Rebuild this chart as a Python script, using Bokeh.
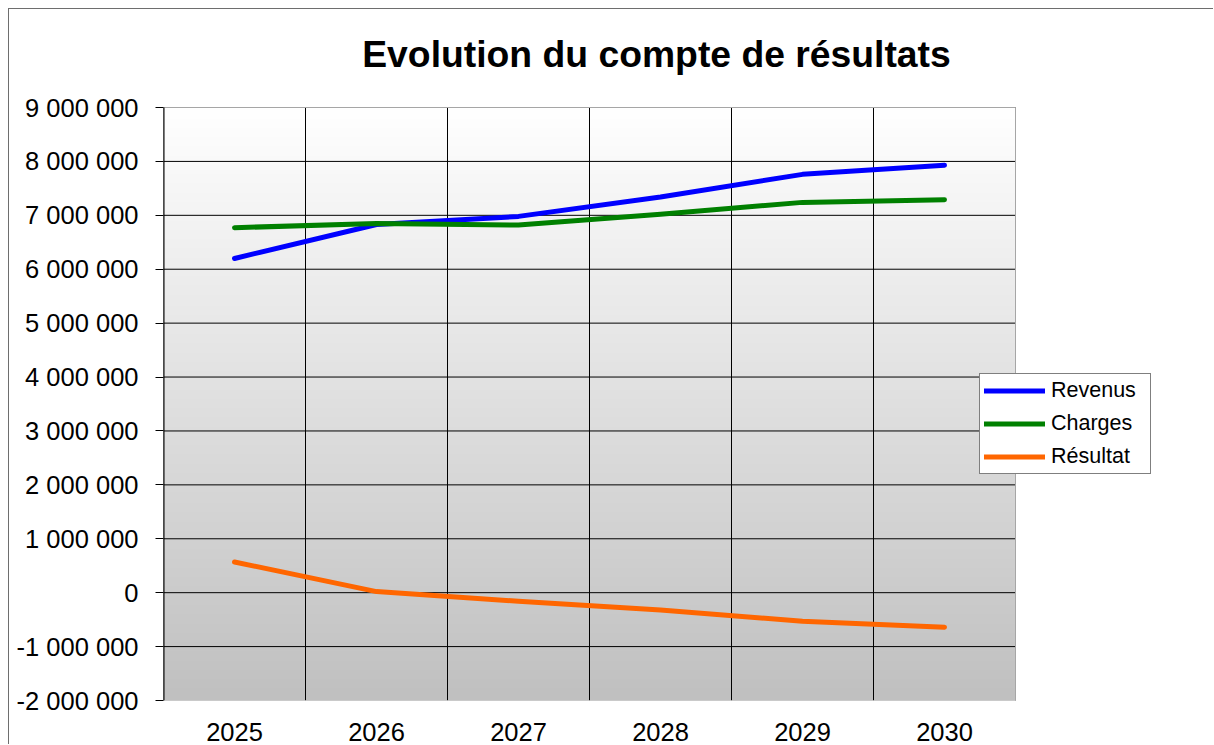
import numpy as np
from bokeh.plotting import figure
from bokeh.models import Range1d, FixedTicker, Legend, LegendItem, Label
from bokeh.embed import file_html
from bokeh.resources import INLINE

# ---- data ----
years = [2025, 2026, 2027, 2028, 2029, 2030]
revenus = [6200000, 6830000, 6980000, 7340000, 7760000, 7930000]
charges = [6770000, 6850000, 6820000, 7020000, 7240000, 7290000]
resultat = [570000, 20000, -160000, -320000, -530000, -640000]
series_names = ["Revenus", "Charges", "Résultat"]
series_colors = ["#0000FF", "#008000", "#FF6600"]
y_ticks = list(range(-2000000, 9000001, 1000000))
y_tick_labels = [f"{v:,}".replace(",", " ") for v in y_ticks]
title_text = "Evolution du compte de résultats"

y_min, y_max = y_ticks[0], y_ticks[-1]
FONT = "Liberation Sans"

# layout (pixels)
DATA_W = 852      # width of the grey plot area
DATA_H = 593      # height of the grey plot area
FRAME_W = 997     # frame incl. room for the overlapping legend
FRAME_H = 691     # frame incl. room for the title
x_lo = years[0] - 0.5
x_hi = years[-1] + 0.5
x_end = x_lo + len(years) * FRAME_W / DATA_W
y_end = y_min + (y_max - y_min) * FRAME_H / DATA_H

p = figure(width=1205, height=736, output_backend="svg", toolbar_location=None,
           x_range=Range1d(x_lo, x_end),
           y_range=Range1d(y_min, y_end),
           min_border_left=154, min_border_right=1205 - 154 - FRAME_W,
           min_border_top=0, min_border_bottom=736 - FRAME_H)
p.styles = {"margin-left": "8px", "margin-top": "8px",
            "border-left": "1px solid #6e6e6e", "border-top": "1px solid #6e6e6e"}
p.title.visible = False
p.background_fill_color = "white"
p.border_fill_color = "white"
p.outline_line_color = None

# gradient background (white at top -> grey at bottom)
n = 256
g = np.linspace(192, 255, n).astype(np.uint32)
img = np.empty((n, 1), dtype=np.uint32)
img[:, 0] = (255 << 24) | (g << 16) | (g << 8) | g
p.image_rgba(image=[img], x=x_lo, y=y_min, dw=x_hi - x_lo, dh=y_max - y_min,
             level="image")

# grids
p.xgrid.visible = False
p.ygrid.visible = False
bounds = [y - 0.5 for y in years] + [x_hi]
p.segment(x0=bounds, x1=bounds, y0=[y_min] * len(bounds), y1=[y_max] * len(bounds),
          line_color="#000000", line_width=1)
inner = y_ticks[1:-1]
p.segment(x0=[x_lo] * len(inner), x1=[x_hi] * len(inner), y0=inner, y1=inner,
          line_color="#000000", line_width=1)
# plot-area border
p.quad(left=[x_lo], right=[x_hi], bottom=[y_min], top=[y_max],
       fill_color=None, line_color="#A6A6A6", line_width=1)
# value-axis line
p.segment(x0=[x_lo], x1=[x_lo], y0=[y_min], y1=[y_max],
          line_color="#000000", line_width=2)

# axes
xa = p.xaxis[0]
xa.ticker = FixedTicker(ticks=years)
xa.axis_line_color = None
xa.major_tick_line_color = None
xa.minor_tick_line_color = None
xa.major_label_standoff = 16
xa.major_label_text_font = FONT
xa.major_label_text_font_size = "25.5px"
xa.major_label_text_color = "#000000"

ya = p.yaxis[0]
ya.ticker = FixedTicker(ticks=y_ticks)
ya.major_label_overrides = {t: s for t, s in zip(y_ticks, y_tick_labels)}
ya.axis_line_color = None
ya.major_tick_line_color = "#000000"
ya.major_tick_out = 8
ya.major_tick_in = 0
ya.minor_tick_line_color = None
ya.major_label_standoff = 17
ya.major_label_text_font = FONT
ya.major_label_text_font_size = "25.5px"
ya.major_label_text_color = "#000000"

# lines
items = []
for name, vals, col in zip(series_names, [revenus, charges, resultat], series_colors):
    r = p.line(years, vals, line_color=col, line_width=5,
               line_cap="round", line_join="round")
    items.append(LegendItem(label=name, renderers=[r]))

legend = Legend(items=items, location=(816, 226))
legend.border_line_color = "#000000"
legend.border_line_width = 1
legend.background_fill_color = "white"
legend.background_fill_alpha = 1
legend.label_text_font = FONT
legend.label_text_font_size = "21.5px"
legend.label_text_color = "#000000"
legend.glyph_width = 61
legend.glyph_height = 25
legend.label_height = 25
legend.label_width = 95
legend.label_standoff = 6
legend.spacing = 8
legend.padding = 4
legend.margin = 0
p.add_layout(legend, "center")

# title
title = Label(x=493, y=647, x_units="screen", y_units="screen", text=title_text,
              text_font=FONT, text_font_size="37.3px", text_font_style="bold",
              text_align="center", text_baseline="alphabetic", text_color="#000000")
p.add_layout(title)

open("out.html", "w").write(file_html(p, INLINE))
